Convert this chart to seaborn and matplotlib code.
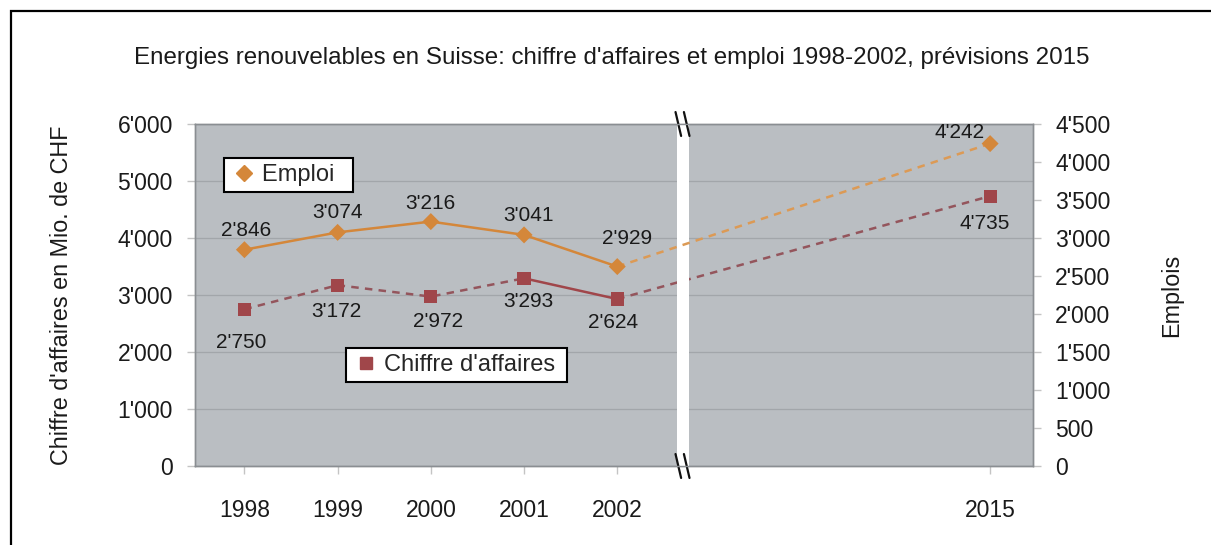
import matplotlib
matplotlib.use("Agg")
import matplotlib.pyplot as plt
import seaborn as sns
import pandas as pd
from matplotlib.ticker import FuncFormatter
from matplotlib.lines import Line2D
from matplotlib.patches import Rectangle

# Data (marker positions as drawn; the 2002 labels are swapped in the source chart)
years = ["1998", "1999", "2000", "2001", "2002", "2015"]
emploi = [2846, 3074, 3216, 3041, 2624, 4242]
chiffre = [2750, 3172, 2972, 3293, 2929, 4735]
emploi_labels = ["2'846", "3'074", "3'216", "3'041", "2'929", "4'242"]
chiffre_labels = ["2'750", "3'172", "2'972", "3'293", "2'624", "4'735"]

# x positions (gap before the forecast year)
x_pos = [0, 1, 2, 3, 4, 8]

sns.set_theme(style="white")
plt.rcParams["font.family"] = ["Liberation Sans", "DejaVu Sans"]

col_emp = "#d4873a"
col_emp_dash = "#dc9a55"
col_chf = "#a0464a"
col_chf_dash = "#94555c"
bg = "#babec2"

fig = plt.figure(figsize=(12.11, 5.45), dpi=100)
ax = fig.add_axes([195 / 1211, 1 - 466 / 545, 838 / 1211, 342 / 545])
ax2 = ax.twinx()
ax.set_facecolor(bg)

df = pd.DataFrame({"x": x_pos, "emploi": emploi, "chiffre": chiffre, "year": years})

# Emploi (right axis): solid for 1998-2002, dashed to 2015
sns.lineplot(data=df.iloc[0:5], x="x", y="emploi", ax=ax2, color=col_emp, lw=1.8)
sns.lineplot(data=df.iloc[4:6], x="x", y="emploi", ax=ax2, color=col_emp_dash, lw=1.8,
             linestyle=(0, (3, 2.5)))
sns.scatterplot(data=df, x="x", y="emploi", ax=ax2, color=col_emp, marker="D", s=75,
                edgecolor="none", zorder=5)

# Chiffre d'affaires (left axis)
sns.lineplot(data=df.iloc[0:4], x="x", y="chiffre", ax=ax, color=col_chf_dash, lw=1.8,
             linestyle=(0, (3, 2.5)))
sns.lineplot(data=df.iloc[3:5], x="x", y="chiffre", ax=ax, color=col_chf, lw=1.8)
sns.lineplot(data=df.iloc[4:6], x="x", y="chiffre", ax=ax, color=col_chf_dash, lw=1.8,
             linestyle=(0, (3, 2.5)))
sns.scatterplot(data=df, x="x", y="chiffre", ax=ax, color=col_chf, marker="s", s=90,
                edgecolor="none", zorder=5)

fmt = FuncFormatter(lambda v, p: f"{int(v):,}".replace(",", "'"))

# data labels
emp_off = [(1, 14), (0, 14), (0, 13), (3, 14), (7, 20), (-22, 8)]
chf_off = [(-2, -24), (-1, -19), (5, -18), (3, -17), (-3, -17), (-4, -20)]
for xi, v, t, o in zip(x_pos, emploi, emploi_labels, emp_off):
    ax2.annotate(t, (xi, v), xytext=o, textcoords="offset points",
                 ha="center", va="center", fontsize=15, color="#1a1a1a", zorder=6)
for xi, v, t, o in zip(x_pos, chiffre, chiffre_labels, chf_off):
    ax.annotate(t, (xi, v), xytext=o, textcoords="offset points",
                ha="center", va="center", fontsize=15, color="#1a1a1a", zorder=6)

ax.set_xlim(-0.53, 8.46)
ax.set_ylim(0, 6000)
ax2.set_ylim(0, 4500)
ax.set_yticks(range(0, 6001, 1000))
ax2.set_yticks(range(0, 4501, 500))
ax.yaxis.set_major_formatter(fmt)
ax2.yaxis.set_major_formatter(fmt)
ax.set_xticks(x_pos)
ax.set_xticklabels(years)
ax.set_xlabel("")
ax2.set_xlabel("")

ax.grid(axis="y", color="#a2a6aa", lw=0.9)
ax.set_axisbelow(True)

tick_kw = dict(length=6, width=1, color="#c4c4c4", labelcolor="#1a1a1a", labelsize=16.5)
ax.tick_params(axis="y", direction="out", left=True, pad=10, **tick_kw)
ax.tick_params(axis="x", direction="out", bottom=True, pad=18, **tick_kw)
ax2.tick_params(axis="y", direction="out", right=True, pad=10, **tick_kw)

for a in (ax, ax2):
    for s in a.spines.values():
        s.set_color("#8a8e92")
        s.set_linewidth(1)

ax.set_ylabel("Chiffre d'affaires en Mio. de CHF", fontsize=16.8, color="#1a1a1a", labelpad=32)
ax2.set_ylabel("Emplois", fontsize=16.8, color="#1a1a1a", labelpad=36)

# axis break: white band with // marks
ax.axvspan(4.64, 4.77, color="white", zorder=4, lw=0)
for yb in (1.0, 0.0):
    for dx in (-0.03, 0.06):
        ax.plot([4.655 + dx, 4.715 + dx], [yb + 0.035, yb - 0.035], color="#111111", lw=1.6,
                transform=ax.get_xaxis_transform(), clip_on=False, zorder=7)

fig.suptitle("Energies renouvelables en Suisse: chiffre d'affaires et emploi 1998-2002, prévisions 2015",
             x=612 / 1211, y=1 - 58 / 545, va="center", fontsize=17.4, color="#1a1a1a")

# legends as separate boxes
h_emp = Line2D([], [], marker="D", color=col_emp, ls="none", markersize=8)
h_chf = Line2D([], [], marker="s", color=col_chf, ls="none", markersize=8)
leg_kw = dict(loc="upper left", fontsize=17, frameon=True, fancybox=False, handlelength=1.2,
              handletextpad=0.15, borderpad=0.25, borderaxespad=0, framealpha=1)
l1 = fig.legend(handles=[h_emp], labels=["Emploi  "], bbox_to_anchor=(224 / 1211, 1 - 158 / 545), **leg_kw)
l2 = fig.legend(handles=[h_chf], labels=["Chiffre d'affaires "], bbox_to_anchor=(346 / 1211, 1 - 348 / 545), **leg_kw)
for l in (l1, l2):
    l.get_frame().set_edgecolor("black")
    l.get_frame().set_linewidth(1.5)
    l.set_zorder(10)

# outer frame
fig.patches.append(Rectangle((11 / 1211, -0.1), 1.2, 1.1 - 11 / 545, transform=fig.transFigure,
                             fill=False, edgecolor="black", lw=1.6))

fig.savefig("out.png", dpi=100)
